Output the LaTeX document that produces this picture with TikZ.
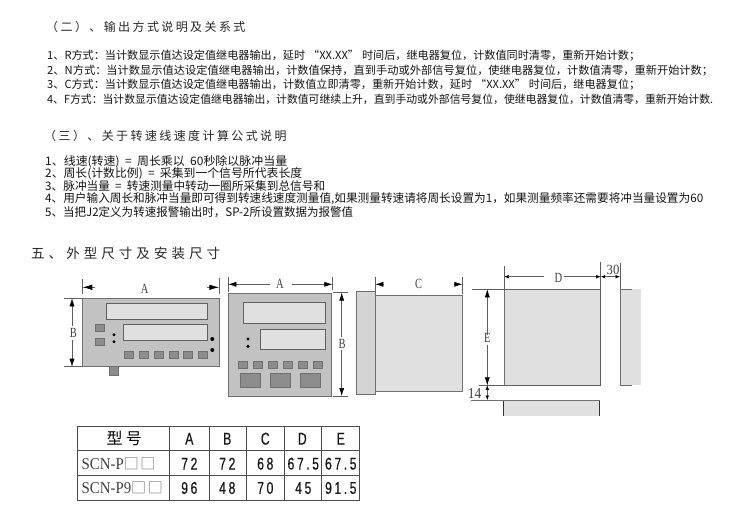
\documentclass[tikz,border=0pt]{standalone}
\usepackage{fontspec}
\usepackage{graphicx}
\usepackage{xcolor}
\usetikzlibrary{arrows.meta}
\newfontfamily\cjk{Noto Sans CJK SC}
\newfontfamily\cjkwide[LetterSpace=20]{Noto Sans CJK SC}
\newfontfamily\cjkwider[LetterSpace=30]{Noto Sans CJK SC}
\newfontfamily\dimfont[FakeStretch=0.75]{Liberation Serif}
\newfontfamily\rowfont[FakeStretch=0.9]{Liberation Serif}
\newfontfamily\cellfont[FakeStretch=0.72,FakeBold=0.5,LetterSpace=15]{Liberation Sans}
\newcommand{\fitline}[2]{\resizebox{#1pt}{\height}{#2}}
\definecolor{panelgray}{HTML}{C2C2C2}
\definecolor{screengray}{HTML}{E0E0E0}
\definecolor{keygray}{HTML}{8C8C8C}
\definecolor{edgegray}{HTML}{707070}
\definecolor{dimgray}{HTML}{606060}
\tikzset{
    bodyline/.style={anchor=west, inner sep=0pt, text=black!92, font=\fontsize{11.15}{12}\cjk},
    formline/.style={anchor=west, inner sep=0pt, text=black!92, font=\fontsize{11.7}{12}\cjk},
    headline/.style={anchor=west, inner sep=0pt, text=black!85, font=\fontsize{12}{14}\cjkwide},
    bigline/.style={anchor=west, inner sep=0pt, text=black!85, font=\fontsize{13.5}{16}\cjkwider},
    panel/.style={draw=edgegray, fill=panelgray, line width=0.9pt},
    screen/.style={draw=dimgray, fill=screengray, line width=0.8pt},
    keycap/.style={draw=edgegray, fill=keygray, line width=0.7pt},
    pale/.style={draw=edgegray, fill=screengray, line width=0.7pt},
    dimline/.style={draw=dimgray, line width=0.5pt},
    dimtip/.style={dimline, -{Latex[length=8pt,width=5pt,black]}},
    shorttip/.style={dimline, <->, >={Latex[length=4.5pt,width=3.5pt,black]}},
    sizelabel/.style={inner sep=0pt, text=black!75, font=\fontsize{14}{16}\dimfont},
    grid/.style={draw=black!70, line width=0.8pt},
    cell/.style={inner sep=0pt, text=black!90, font=\fontsize{17}{18}\cellfont},
    rowname/.style={inner sep=0pt, anchor=west, text=black!75, font=\fontsize{16.5}{18}\rowfont},
}
\begin{document}
\begin{tikzpicture}[x=1pt, y=-1pt]
    \useasboundingbox (0,0) rectangle (750,509);

    \node[headline] (head2) at (46,27) {（二）、输出方式说明及关系式};
    \node[bodyline] (r1) at (47,56) {\fitline{593}{1、R方式：当计数显示值达设定值继电器输出，延时\hspace{3pt}“XX.XX”\hspace{3pt}时间后，继电器复位，计数值同时清零，重新开始计数；}};
    \node[bodyline] (r2) at (47,70.5) {\fitline{666}{2、N方式：当计数显示值达设定值继电器输出，计数值保持，直到手动或外部信号复位，使继电器复位，计数值清零，重新开始计数；}};
    \node[bodyline] (r3) at (47,84.5) {\fitline{593}{3、C方式：当计数显示值达设定值继电器输出，计数值立即清零，重新开始计数，延时\hspace{3pt}“XX.XX”\hspace{3pt}时间后，继电器复位；}};
    \node[bodyline] (r4) at (47,99) {\fitline{666}{4、F方式：当计数显示值达设定值继电器输出，计数值可继续上升，直到手动或外部信号复位，使继电器复位，计数值清零，重新开始计数.}};

    \node[headline] (head3) at (44,136) {（三）、关于转速线速度计算公式说明};
    \node[formline] (s1) at (45,161.5) {\fitline{242}{1、线速(转速)\ \ =\ \ 周长乘以\ \ 60秒除以脉冲当量}};
    \node[formline] (s2) at (45,174) {\fitline{257}{2、周长(计数比例)\ \ =\ \ 采集到一个信号所代表长度}};
    \node[formline] (s3) at (45,186.5) {\fitline{280}{3、脉冲当量\ \ =\ \ 转速测量中转动一圈所采集到总信号和}};
    \node[formline] (s4) at (45,199) {\fitline{658}{4、用户输入周长和脉冲当量即可得到转速线速度测量值,如果测量转速请将周长设置为1，如果测量频率还需要将冲当量设置为60}};
    \node[formline] (s5) at (45,212) {\fitline{308}{5、当把J2定义为转速报警输出时，SP-2所设置数据为报警值}};

    \node[bigline] (head5) at (31,253) {五、外型尺寸及安装尺寸};

    % wide panel
    \draw[panel] (82.3,298.3) rectangle (219.3,366.7);
    \draw[keycap] (109.3,366.7) rectangle (118.3,375);
    \draw[screen] (106,303.7) rectangle (207.7,319.7);
    \draw[screen] (123.3,324.3) rectangle (207.7,340.5);
    \draw[keycap] (95,324) rectangle (104,331.7);
    \draw[keycap] (95,338.3) rectangle (104,345.7);
    \fill[black] (114,334.7) circle (1.7pt);
    \fill[black] (114,341.7) circle (1.7pt);
    \fill[black] (212.3,339) circle (2pt);
    \fill[black] (212.3,350) circle (2pt);
    \foreach \i in {124,139,154,169,183.7,198.3} {
        \draw[keycap] (\i,351) rectangle (\i+9,358.3);
    }
    \draw[dimline] (82.3,279) -- (82.3,294);
    \draw[dimline] (219.3,278) -- (219.3,294);
    \draw[dimline, line width=0.9pt, -{Latex[length=10pt,width=5.5pt,black]}] (95,287.3) -- (82.3,287.3);
    \draw[dimline, line width=0.9pt, -{Latex[length=10pt,width=5.5pt,black]}] (207,287.3) -- (219.3,287.3);
    \node[sizelabel] (a1) at (144.7,289) {A};
    \draw[dimline] (64,298.3) -- (82,298.3);
    \draw[dimline] (64,366.7) -- (82,366.7);
    \draw[dimtip] (72,326) -- (72,298.3);
    \draw[dimtip] (72,340) -- (72,366.7);
    \node[sizelabel] (b1) at (73.5,333.3) {B};

    % square panel
    \draw[panel] (228.3,293.3) rectangle (331.7,396);
    \draw[screen] (243.3,302.3) rectangle (325.7,323.7);
    \draw[screen] (260.7,329.3) rectangle (325.7,349.3);
    \fill[black] (248,339) circle (1.7pt);
    \fill[black] (248,346.3) circle (1.7pt);
    \foreach \i in {238.3,253.3,268.3,283.3,298.3,313.3} {
        \draw[keycap] (\i,361.3) rectangle (\i+8.7,368.7);
    }
    \foreach \i in {240,270,300} {
        \draw[keycap] (\i,373.3) rectangle (\i+20,387);
    }
    \draw[dimline] (228.3,277) -- (228.3,291.5);
    \draw[dimline] (332.3,277) -- (332.3,290);
    \draw[dimtip] (270,284.3) -- (228.3,284.3);
    \draw[dimtip] (291.7,284.3) -- (332.3,284.3);
    \node[sizelabel] (a2) at (280,284) {A};
    \draw[dimline] (333.3,292.7) -- (348.3,292.7);
    \draw[dimline] (333.3,396) -- (348.3,396);
    \draw[dimtip] (341.7,336.7) -- (341.7,292.7);
    \draw[dimtip] (341.7,350) -- (341.7,396);
    \node[sizelabel] (b2) at (342,344) {B};

    % side view
    \draw[pale] (375.7,295.7) rectangle (462.3,391.7);
    \draw[panel, fill=panelgray!70!white] (356.3,291.7) rectangle (375.7,394);
    \draw[dimline] (375.3,276.7) -- (375.3,293);
    \draw[dimline] (462.3,276.7) -- (462.3,294);
    \draw[dimtip] (384,284.3) -- (375.3,284.3);
    \draw[dimtip] (454,284.3) -- (462.3,284.3);
    \node[sizelabel] (c1) at (418.7,284) {C};

    % cut-out
    \fill[screengray] (504.3,289.3) rectangle (600.7,385.3);
    \draw[edgegray, line width=0.7pt] (504.3,385.3) -- (504.3,289.3);
    \fill[screengray] (620,289.3) rectangle (640.7,385.3);
    \draw[edgegray, line width=0.9pt] (631.7,289.3) -- (620,289.3) -- (620,385.3) -- (631.7,385.3);
    \fill[screengray] (503.3,400) rectangle (599.7,416);
    \draw[black!80, line width=0.8pt] (503.3,416) -- (503.3,400);
    \draw[black!80, line width=0.8pt] (599.7,416) -- (599.7,400);
    \draw[edgegray, line width=0.7pt] (471,400) -- (599.7,400);
    \draw[dimline] (472,289.3) -- (600.7,289.3);
    \draw[dimline] (479,385.3) -- (600.7,385.3);
    \draw[dimline] (504.3,266) -- (504.3,289.3);
    \draw[dimline] (600.7,262) -- (600.7,385.3);
    \draw[dimline] (620,263) -- (620,289.3);
    \draw[shorttip, -{Latex[length=4.5pt,width=3.5pt,black]}] (544.3,276.7) -- (504.3,276.7);
    \draw[shorttip, -{Latex[length=4.5pt,width=3.5pt,black]}] (564.3,276.7) -- (600.7,276.7);
    \node[sizelabel] (d1) at (558.3,277.5) {D};
    \draw[shorttip] (600.7,276.7) -- (620,276.7);
    \node[sizelabel, font=\fontsize{14}{16}\rowfont] (w1) at (613,269.5) {30};
    \draw[dimtip] (487.3,335) -- (487.3,289.3);
    \draw[dimtip] (487.3,345) -- (487.3,385.3);
    \node[sizelabel] (e1) at (487.3,337.7) {E};
    \draw[shorttip] (487.3,385.3) -- (487.3,400);
    \node[sizelabel, font=\fontsize{15}{16}\rowfont] (g1) at (474.5,393.3) {14};

    % table
    \draw[grid] (77.7,426.7) rectangle (359.3,500);
    \draw[grid] (77.7,450.7) -- (359.3,450.7);
    \draw[grid] (77.7,475.3) -- (359.3,475.3);
    \foreach \i in {169.7,209,246.7,284,321.3} {
        \draw[grid] (\i,426.7) -- (\i,500);
    }
    \node[inner sep=0pt, font=\fontsize{16}{18}\cjkwide] (model) at (124.3,438.7) {型号};
    \foreach \i/\x/\t in {0/189.3/A,1/227.3/B,2/265.3/C,3/302.3/D,4/340.7/E} {
        \node[cell] (top\i) at (\x,438.7) {\t};
    }
    \node[rowname] (p1) at (81.5,463.7) {SCN-P{\fontsize{15}{16}\cjk\color{black!55}□\kern1.7pt□}};
    \foreach \i/\x/\t in {0/189.3/72,1/227.3/72,2/265.3/68,3/303.3/67.5,4/340.8/67.5} {
        \node[cell] (mid\i) at (\x,463.7) {\t};
    }
    \node[rowname] (p2) at (81.5,488) {SCN-P9{\fontsize{15}{16}\cjk\color{black!55}□\kern1.7pt□}};
    \foreach \i/\x/\t in {0/189.3/96,1/227.3/48,2/265.3/70,3/303.3/45,4/340.8/91.5} {
        \node[cell] (low\i) at (\x,488) {\t};
    }
\end{tikzpicture}
\end{document}
